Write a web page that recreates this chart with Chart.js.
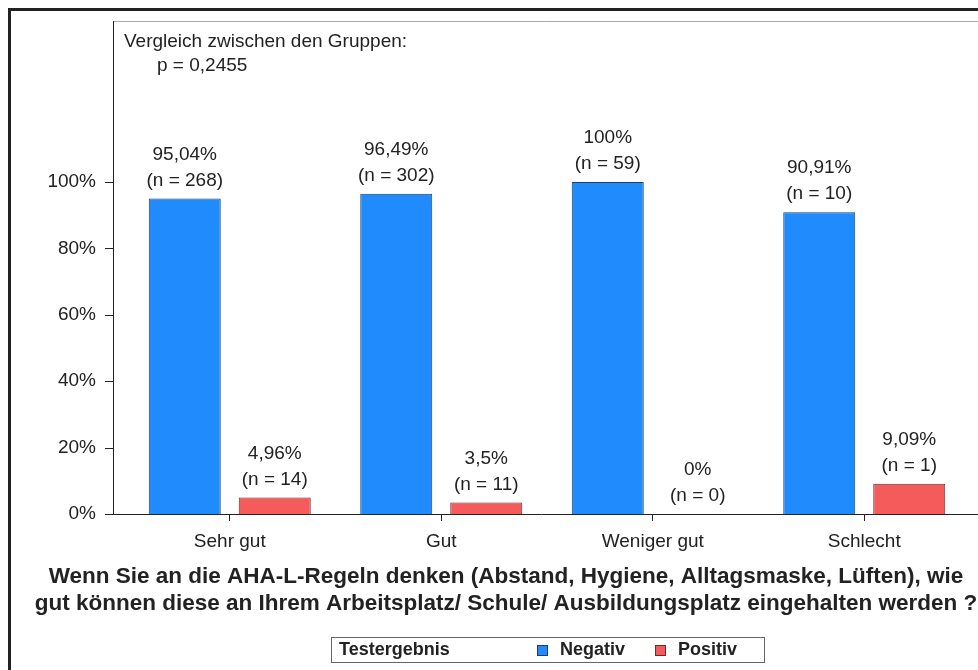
<!DOCTYPE html>
<html lang="de">
<head>
    <meta charset="UTF-8">
    <title>AHA-L-Regeln</title>
    <style>
        body{ margin: 0; background: #fff; overflow: hidden; }
        .rahmen{
            position: absolute; left: 8px; top: 8px;
            width: 2000px; height: 2000px;
            border-left: 3px solid #222; border-top: 3px solid #222;
            pointer-events: none;
        }
    </style>
</head>
<body>
    <div style="position:relative; width:978px; height:670px;">
        <canvas id="myChart" width="978" height="670"></canvas>
    </div>
    <div class="rahmen"></div>

    <script src="https://cdn.jsdelivr.net/npm/chart.js"></script>

    <script>
        const kategorien = ['Sehr gut', 'Gut', 'Weniger gut', 'Schlecht']
        const negativ = [95.04, 96.49, 100, 90.91]
        const positiv = [4.96, 3.5, 0, 9.09]
        const nNegativ = [268, 302, 59, 10]
        const nPositiv = [14, 11, 0, 1]
        const yTicks = [0, 20, 40, 60, 80, 100]
        const titelZeilen = [
            'Wenn Sie an die AHA-L-Regeln denken (Abstand, Hygiene, Alltagsmaske, Lüften), wie',
            'gut können diese an Ihrem Arbeitsplatz/ Schule/ Ausbildungsplatz eingehalten werden ?'
        ]
        const anmerkung = ['Vergleich zwischen den Gruppen:', 'p = 0,2455']
        const legendeTitel = 'Testergebnis'

        const schrift = '"Liberation Sans", Arial, sans-serif'
        const textFarbe = '#222'

        const zeichnen = {
            id: 'zeichnen',
            afterDraw(chart) {
                const ctx = chart.ctx
                const y = chart.scales.y
                const area = chart.chartArea
                const achseX = area.left - 11
                ctx.save()
                // Rahmen des Plots
                ctx.strokeStyle = '#aaa'
                ctx.lineWidth = 1
                ctx.beginPath()
                ctx.moveTo(achseX, area.top + 0.5)
                ctx.lineTo(978, area.top + 0.5)
                ctx.stroke()
                ctx.strokeStyle = '#222'
                ctx.beginPath()
                ctx.moveTo(achseX + 0.5, area.top)
                ctx.lineTo(achseX + 0.5, area.bottom)
                ctx.moveTo(achseX - 8, area.bottom + 0.5)
                ctx.lineTo(978, area.bottom + 0.5)
                yTicks.forEach(v => {
                    const py = Math.round(y.getPixelForValue(v)) + 0.5
                    ctx.moveTo(achseX - 8, py)
                    ctx.lineTo(achseX, py)
                })
                ctx.stroke()

                // Werte über den Balken
                ctx.fillStyle = textFarbe
                ctx.font = '19px ' + schrift
                ctx.textAlign = 'center'
                ctx.textBaseline = 'middle'
                const reihen = [[negativ, nNegativ], [positiv, nPositiv]]
                reihen.forEach(([werte, anzahl], d) => {
                    chart.getDatasetMeta(d).data.forEach((bar, i) => {
                        const prozent = String(werte[i]).replace('.', ',') + '%'
                        ctx.fillText(prozent, bar.x, bar.y - 44)
                        ctx.fillText('(n = ' + anzahl[i] + ')', bar.x, bar.y - 18)
                    })
                })

                // Anmerkung oben links
                ctx.textAlign = 'left'
                ctx.fillText(anmerkung[0], area.left, 42)
                ctx.fillText(anmerkung[1], area.left + 33, 66)

                // Titel unten
                ctx.font = 'bold 22.5px ' + schrift
                ctx.textAlign = 'center'
                titelZeilen.forEach((z, i) => ctx.fillText(z, 506, 577 + i * 27))

                // Legende
                ctx.fillStyle = '#fff'
                ctx.fillRect(331, 637, 433, 25)
                ctx.strokeStyle = '#666'
                ctx.strokeRect(331.5, 637.5, 433, 25)
                ctx.fillStyle = textFarbe
                ctx.font = 'bold 18px ' + schrift
                ctx.textAlign = 'left'
                ctx.fillText(legendeTitel, 339, 650)
                const lx = [537, 655]
                chart.data.datasets.forEach((ds, i) => {
                    ctx.fillStyle = ds.backgroundColor
                    ctx.fillRect(lx[i], 645, 10, 10)
                    ctx.strokeStyle = ds.borderColor
                    ctx.strokeRect(lx[i] + 0.5, 645.5, 10, 10)
                    ctx.fillStyle = textFarbe
                    ctx.fillText(ds.label, lx[i] + 23, 650)
                })
                ctx.restore()
            }
        }

        const contexto = document.querySelector('#myChart')
        const grafico = new Chart(contexto, {
            type: 'bar',
            data: {
                labels: kategorien,
                datasets: [{
                    label: 'Negativ',
                    data: negativ,
                    backgroundColor: '#1f8bfc',
                    borderColor: '#1d3e6e',
                    borderWidth: 1,
                    borderSkipped: 'bottom'
                }, {
                    label: 'Positiv',
                    data: positiv,
                    backgroundColor: '#f65b5b',
                    borderColor: '#6b2b2b',
                    borderWidth: 1,
                    borderSkipped: 'bottom'
                }]
            },
            options: {
                responsive: false,
                animation: false,
                categoryPercentage: 0.851,
                barPercentage: 0.8,
                layout: { padding: { top: 21, right: 8, bottom: 50, left: 0 } },
                plugins: {
                    legend: { display: false },
                    tooltip: { enabled: false }
                },
                scales: {
                    x: {
                        offset: true,
                        border: { display: false },
                        grid: { display: true, drawOnChartArea: false, offset: false, tickLength: 7, color: '#222' },
                        ticks: { color: textFarbe, font: { family: schrift, size: 19 }, padding: 9 },
                        afterFit: s => { s.height = 106; s.paddingLeft = 0; s.paddingRight = 0 }
                    },
                    y: {
                        min: 0,
                        max: 148.5,
                        border: { display: false },
                        grid: { display: false, drawTicks: false },
                        afterBuildTicks: s => { s.ticks = yTicks.map(v => ({ value: v })) },
                        ticks: {
                            color: textFarbe,
                            font: { family: schrift, size: 19 },
                            padding: 28,
                            callback: v => v + '%'
                        },
                        afterFit: s => { s.width = 124; s.paddingTop = 0; s.paddingBottom = 0 }
                    }
                }
            },
            plugins: [zeichnen]
        })
    </script>
</body>
</html>
